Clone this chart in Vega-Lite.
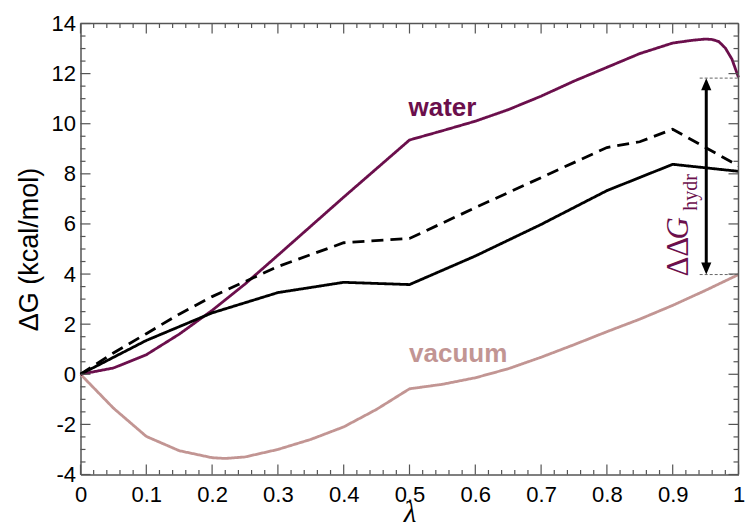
{
  "$schema": "https://vega.github.io/schema/vega-lite/v6.json",
  "width": 658,
  "height": 451,
  "autosize": {"type": "none"},
  "padding": {"left": 80.5, "top": 23.5, "right": 7.5, "bottom": 52},
  "background": "white",
  "config": {
    "view": {"stroke": null},
    "axis": {
      "grid": false,
      "domainColor": "#555555",
      "domainWidth": 1.5,
      "tickColor": "transparent",
      "labelColor": "black",
      "titleColor": "black",
      "labelFont": "Liberation Sans",
      "labelFontSize": 22,
      "titleFontWeight": "normal"
    }
  },
  "datasets": {
    "curves": [
      {"lambda": 0, "dG": 0, "series": "vacuum"},
      {"lambda": 0.05, "dG": -1.35, "series": "vacuum"},
      {"lambda": 0.1, "dG": -2.48, "series": "vacuum"},
      {"lambda": 0.15, "dG": -3.05, "series": "vacuum"},
      {"lambda": 0.2, "dG": -3.33, "series": "vacuum"},
      {"lambda": 0.22, "dG": -3.36, "series": "vacuum"},
      {"lambda": 0.25, "dG": -3.3, "series": "vacuum"},
      {"lambda": 0.3, "dG": -3.0, "series": "vacuum"},
      {"lambda": 0.35, "dG": -2.6, "series": "vacuum"},
      {"lambda": 0.4, "dG": -2.1, "series": "vacuum"},
      {"lambda": 0.45, "dG": -1.4, "series": "vacuum"},
      {"lambda": 0.5, "dG": -0.58, "series": "vacuum"},
      {"lambda": 0.55, "dG": -0.4, "series": "vacuum"},
      {"lambda": 0.6, "dG": -0.14, "series": "vacuum"},
      {"lambda": 0.65, "dG": 0.22, "series": "vacuum"},
      {"lambda": 0.7, "dG": 0.68, "series": "vacuum"},
      {"lambda": 0.75, "dG": 1.18, "series": "vacuum"},
      {"lambda": 0.8, "dG": 1.7, "series": "vacuum"},
      {"lambda": 0.85, "dG": 2.2, "series": "vacuum"},
      {"lambda": 0.9, "dG": 2.75, "series": "vacuum"},
      {"lambda": 0.95, "dG": 3.35, "series": "vacuum"},
      {"lambda": 1.0, "dG": 3.98, "series": "vacuum"},
      {"lambda": 0, "dG": 0, "series": "water"},
      {"lambda": 0.05, "dG": 0.25, "series": "water"},
      {"lambda": 0.1, "dG": 0.78, "series": "water"},
      {"lambda": 0.15, "dG": 1.6, "series": "water"},
      {"lambda": 0.2, "dG": 2.55, "series": "water"},
      {"lambda": 0.25, "dG": 3.6, "series": "water"},
      {"lambda": 0.3, "dG": 4.75, "series": "water"},
      {"lambda": 0.4, "dG": 7.07, "series": "water"},
      {"lambda": 0.5, "dG": 9.35, "series": "water"},
      {"lambda": 0.55, "dG": 9.72, "series": "water"},
      {"lambda": 0.6, "dG": 10.1, "series": "water"},
      {"lambda": 0.65, "dG": 10.56, "series": "water"},
      {"lambda": 0.7, "dG": 11.1, "series": "water"},
      {"lambda": 0.75, "dG": 11.7, "series": "water"},
      {"lambda": 0.8, "dG": 12.25, "series": "water"},
      {"lambda": 0.85, "dG": 12.8, "series": "water"},
      {"lambda": 0.9, "dG": 13.22, "series": "water"},
      {"lambda": 0.93, "dG": 13.33, "series": "water"},
      {"lambda": 0.95, "dG": 13.38, "series": "water"},
      {"lambda": 0.96, "dG": 13.36, "series": "water"},
      {"lambda": 0.97, "dG": 13.28, "series": "water"},
      {"lambda": 0.98, "dG": 13.02, "series": "water"},
      {"lambda": 0.99, "dG": 12.58, "series": "water"},
      {"lambda": 1.0, "dG": 11.85, "series": "water"},
      {"lambda": 0, "dG": 0, "series": "total"},
      {"lambda": 0.1, "dG": 1.35, "series": "total"},
      {"lambda": 0.2, "dG": 2.45, "series": "total"},
      {"lambda": 0.3, "dG": 3.26, "series": "total"},
      {"lambda": 0.4, "dG": 3.67, "series": "total"},
      {"lambda": 0.5, "dG": 3.58, "series": "total"},
      {"lambda": 0.6, "dG": 4.72, "series": "total"},
      {"lambda": 0.7, "dG": 5.98, "series": "total"},
      {"lambda": 0.8, "dG": 7.33, "series": "total"},
      {"lambda": 0.9, "dG": 8.38, "series": "total"},
      {"lambda": 1.0, "dG": 8.1, "series": "total"},
      {"lambda": 0, "dG": 0, "series": "dashed"},
      {"lambda": 0.05, "dG": 0.85, "series": "dashed"},
      {"lambda": 0.1, "dG": 1.62, "series": "dashed"},
      {"lambda": 0.15, "dG": 2.4, "series": "dashed"},
      {"lambda": 0.2, "dG": 3.1, "series": "dashed"},
      {"lambda": 0.3, "dG": 4.3, "series": "dashed"},
      {"lambda": 0.4, "dG": 5.25, "series": "dashed"},
      {"lambda": 0.5, "dG": 5.42, "series": "dashed"},
      {"lambda": 0.6, "dG": 6.65, "series": "dashed"},
      {"lambda": 0.7, "dG": 7.85, "series": "dashed"},
      {"lambda": 0.8, "dG": 9.05, "series": "dashed"},
      {"lambda": 0.85, "dG": 9.28, "series": "dashed"},
      {"lambda": 0.9, "dG": 9.78, "series": "dashed"},
      {"lambda": 1.0, "dG": 8.32, "series": "dashed"}
    ],
    "xticks": [
      {"v": 0, "kind": "major"}, {"v": 0.02, "kind": "minor"}, {"v": 0.04, "kind": "minor"}, {"v": 0.06, "kind": "minor"}, {"v": 0.08, "kind": "minor"},
      {"v": 0.1, "kind": "major"}, {"v": 0.12, "kind": "minor"}, {"v": 0.14, "kind": "minor"}, {"v": 0.16, "kind": "minor"}, {"v": 0.18, "kind": "minor"},
      {"v": 0.2, "kind": "major"}, {"v": 0.22, "kind": "minor"}, {"v": 0.24, "kind": "minor"}, {"v": 0.26, "kind": "minor"}, {"v": 0.28, "kind": "minor"},
      {"v": 0.3, "kind": "major"}, {"v": 0.32, "kind": "minor"}, {"v": 0.34, "kind": "minor"}, {"v": 0.36, "kind": "minor"}, {"v": 0.38, "kind": "minor"},
      {"v": 0.4, "kind": "major"}, {"v": 0.42, "kind": "minor"}, {"v": 0.44, "kind": "minor"}, {"v": 0.46, "kind": "minor"}, {"v": 0.48, "kind": "minor"},
      {"v": 0.5, "kind": "major"}, {"v": 0.52, "kind": "minor"}, {"v": 0.54, "kind": "minor"}, {"v": 0.56, "kind": "minor"}, {"v": 0.58, "kind": "minor"},
      {"v": 0.6, "kind": "major"}, {"v": 0.62, "kind": "minor"}, {"v": 0.64, "kind": "minor"}, {"v": 0.66, "kind": "minor"}, {"v": 0.68, "kind": "minor"},
      {"v": 0.7, "kind": "major"}, {"v": 0.72, "kind": "minor"}, {"v": 0.74, "kind": "minor"}, {"v": 0.76, "kind": "minor"}, {"v": 0.78, "kind": "minor"},
      {"v": 0.8, "kind": "major"}, {"v": 0.82, "kind": "minor"}, {"v": 0.84, "kind": "minor"}, {"v": 0.86, "kind": "minor"}, {"v": 0.88, "kind": "minor"},
      {"v": 0.9, "kind": "major"}, {"v": 0.92, "kind": "minor"}, {"v": 0.94, "kind": "minor"}, {"v": 0.96, "kind": "minor"}, {"v": 0.98, "kind": "minor"},
      {"v": 1, "kind": "major"}
    ],
    "yticks": [
      {"v": -4, "kind": "major"}, {"v": -3.5, "kind": "minor"}, {"v": -3, "kind": "minor"}, {"v": -2.5, "kind": "minor"},
      {"v": -2, "kind": "major"}, {"v": -1.5, "kind": "minor"}, {"v": -1, "kind": "minor"}, {"v": -0.5, "kind": "minor"},
      {"v": 0, "kind": "major"}, {"v": 0.5, "kind": "minor"}, {"v": 1, "kind": "minor"}, {"v": 1.5, "kind": "minor"},
      {"v": 2, "kind": "major"}, {"v": 2.5, "kind": "minor"}, {"v": 3, "kind": "minor"}, {"v": 3.5, "kind": "minor"},
      {"v": 4, "kind": "major"}, {"v": 4.5, "kind": "minor"}, {"v": 5, "kind": "minor"}, {"v": 5.5, "kind": "minor"},
      {"v": 6, "kind": "major"}, {"v": 6.5, "kind": "minor"}, {"v": 7, "kind": "minor"}, {"v": 7.5, "kind": "minor"},
      {"v": 8, "kind": "major"}, {"v": 8.5, "kind": "minor"}, {"v": 9, "kind": "minor"}, {"v": 9.5, "kind": "minor"},
      {"v": 10, "kind": "major"}, {"v": 10.5, "kind": "minor"}, {"v": 11, "kind": "minor"}, {"v": 11.5, "kind": "minor"},
      {"v": 12, "kind": "major"}, {"v": 12.5, "kind": "minor"}, {"v": 13, "kind": "minor"}, {"v": 13.5, "kind": "minor"},
      {"v": 14, "kind": "major"}
    ],
    "labels": [
      {"lambda": 0.55, "dG": 10.32, "text": "water", "series": "water"},
      {"lambda": 0.574, "dG": 0.49, "text": "vacuum", "series": "vacuum"}
    ],
    "guides": [
      {"x1": 0.941, "x2": 1.0, "dG": 11.82},
      {"x1": 0.941, "x2": 1.0, "dG": 3.98}
    ],
    "arrow": [
      {"lambda": 0.951, "y1": 4.3, "y2": 11.5}
    ],
    "heads": [
      {"lambda": 0.951, "dG": 11.58, "dir": "up"},
      {"lambda": 0.951, "dG": 4.22, "dir": "down"}
    ],
    "ddg": [
      {"lambda": 0.924, "dG": 3.9, "text": "ΔΔ"},
      {"lambda": 0.924, "dG": 5.38, "text": "G"},
      {"lambda": 0.9376, "dG": 6.53, "text": "hydr"}
    ]
  },
  "layer": [
    {
      "data": {"name": "curves"},
      "mark": {"type": "line", "strokeWidth": 2.8},
      "encoding": {
        "x": {
          "field": "lambda", "type": "quantitative",
          "scale": {"domain": [0, 1], "nice": false, "zero": false},
          "axis": {
            "orient": "bottom",
            "values": [0,0.1,0.2,0.3,0.4,0.5,0.6,0.7,0.8,0.9,1],
            "tickSize": -10,
            "labelExpr": "'' + datum.value",
            "labelOverlap": false,
            "labelFlush": false,
            "labelBound": false,
            "labelPadding": 20,
            "title": "λ",
            "titleFont": "Liberation Serif",
            "titleFontStyle": "italic",
            "titleFontSize": 29,
            "titlePadding": -7
          }
        },
        "y": {
          "field": "dG", "type": "quantitative",
          "scale": {"domain": [-4, 14], "nice": false, "zero": false},
          "axis": {
            "orient": "left",
            "values": [-4,-2,0,2,4,6,8,10,12,14],
            "tickSize": -10,
            "labelExpr": "'' + datum.value",
            "labelOverlap": false,
            "labelFlush": false,
            "labelBound": false,
            "labelPadding": 15,
            "title": "ΔG (kcal/mol)",
            "titleFont": "Liberation Sans",
            "titleFontSize": 27,
            "titlePadding": 8
          }
        },
        "color": {
          "field": "series", "type": "nominal",
          "scale": {"domain": ["water", "vacuum", "total", "dashed"], "range": ["#6B0F4C", "#C29593", "#000000", "#000000"]},
          "legend": null
        },
        "strokeDash": {
          "field": "series", "type": "nominal",
          "scale": {"domain": ["water", "vacuum", "total", "dashed"], "range": [[1, 0], [1, 0], [1, 0], [12, 7]]},
          "legend": null
        }
      }
    },
    {
      "data": {"name": "xticks"},
      "transform": [{"filter": "datum.kind == 'major'"}],
      "mark": {"type": "rule", "color": "#555555", "strokeWidth": 1.2, "y2Offset": -10},
      "encoding": {
        "x": {"field": "v", "type": "quantitative", "axis": null},
        "y": {"datum": -4, "type": "quantitative", "axis": null},
        "y2": {"datum": -4}
      }
    },
    {
      "data": {"name": "xticks"},
      "transform": [{"filter": "datum.kind == 'minor'"}],
      "mark": {"type": "rule", "color": "#555555", "strokeWidth": 1.2, "y2Offset": -4.5},
      "encoding": {
        "x": {"field": "v", "type": "quantitative", "axis": null},
        "y": {"datum": -4, "type": "quantitative", "axis": null},
        "y2": {"datum": -4}
      }
    },
    {
      "data": {"name": "xticks"},
      "transform": [{"filter": "datum.kind == 'major'"}],
      "mark": {"type": "rule", "color": "#555555", "strokeWidth": 1.2, "y2Offset": 10},
      "encoding": {
        "x": {"field": "v", "type": "quantitative", "axis": null},
        "y": {"datum": 14, "type": "quantitative", "axis": null},
        "y2": {"datum": 14}
      }
    },
    {
      "data": {"name": "xticks"},
      "transform": [{"filter": "datum.kind == 'minor'"}],
      "mark": {"type": "rule", "color": "#555555", "strokeWidth": 1.2, "y2Offset": 4.5},
      "encoding": {
        "x": {"field": "v", "type": "quantitative", "axis": null},
        "y": {"datum": 14, "type": "quantitative", "axis": null},
        "y2": {"datum": 14}
      }
    },
    {
      "data": {"name": "yticks"},
      "transform": [{"filter": "datum.kind == 'major'"}],
      "mark": {"type": "rule", "color": "#555555", "strokeWidth": 1.2, "x2Offset": 10},
      "encoding": {
        "y": {"field": "v", "type": "quantitative", "axis": null},
        "x": {"datum": 0, "type": "quantitative", "axis": null},
        "x2": {"datum": 0}
      }
    },
    {
      "data": {"name": "yticks"},
      "transform": [{"filter": "datum.kind == 'minor'"}],
      "mark": {"type": "rule", "color": "#555555", "strokeWidth": 1.2, "x2Offset": 5},
      "encoding": {
        "y": {"field": "v", "type": "quantitative", "axis": null},
        "x": {"datum": 0, "type": "quantitative", "axis": null},
        "x2": {"datum": 0}
      }
    },
    {
      "data": {"name": "yticks"},
      "transform": [{"filter": "datum.kind == 'major'"}],
      "mark": {"type": "rule", "color": "#555555", "strokeWidth": 1.2, "x2Offset": -10},
      "encoding": {
        "y": {"field": "v", "type": "quantitative", "axis": null},
        "x": {"datum": 1, "type": "quantitative", "axis": null},
        "x2": {"datum": 1}
      }
    },
    {
      "data": {"name": "yticks"},
      "transform": [{"filter": "datum.kind == 'minor'"}],
      "mark": {"type": "rule", "color": "#555555", "strokeWidth": 1.2, "x2Offset": -5},
      "encoding": {
        "y": {"field": "v", "type": "quantitative", "axis": null},
        "x": {"datum": 1, "type": "quantitative", "axis": null},
        "x2": {"datum": 1}
      }
    },
    {
      "data": {"values": [{}]},
      "mark": {"type": "rule", "color": "#555555", "strokeWidth": 1.5},
      "encoding": {
        "x": {"datum": 0, "type": "quantitative", "axis": null},
        "x2": {"datum": 1},
        "y": {"datum": 14, "type": "quantitative", "axis": null}
      }
    },
    {
      "data": {"values": [{}]},
      "mark": {"type": "rule", "color": "#555555", "strokeWidth": 1.5},
      "encoding": {
        "x": {"datum": 1, "type": "quantitative", "axis": null},
        "y": {"datum": -4, "type": "quantitative", "axis": null},
        "y2": {"datum": 14}
      }
    },
    {
      "data": {"name": "labels"},
      "mark": {"type": "text", "font": "Liberation Sans", "fontWeight": "bold", "fontSize": 26, "align": "center", "baseline": "alphabetic"},
      "encoding": {
        "x": {"field": "lambda", "type": "quantitative", "axis": null},
        "y": {"field": "dG", "type": "quantitative", "axis": null},
        "text": {"field": "text"},
        "color": {"field": "series", "type": "nominal", "legend": null}
      }
    },
    {
      "data": {"name": "guides"},
      "mark": {"type": "rule", "color": "#666666", "strokeWidth": 1, "strokeDash": [3, 2]},
      "encoding": {
        "x": {"field": "x1", "type": "quantitative", "axis": null},
        "x2": {"field": "x2"},
        "y": {"field": "dG", "type": "quantitative", "axis": null}
      }
    },
    {
      "data": {"name": "arrow"},
      "mark": {"type": "rule", "color": "black", "strokeWidth": 3},
      "encoding": {
        "x": {"field": "lambda", "type": "quantitative", "axis": null},
        "y": {"field": "y1", "type": "quantitative", "axis": null},
        "y2": {"field": "y2"}
      }
    },
    {
      "data": {"name": "heads"},
      "mark": {"type": "point", "filled": true, "color": "black", "opacity": 1, "size": 144, "strokeWidth": 0},
      "encoding": {
        "x": {"field": "lambda", "type": "quantitative", "axis": null},
        "y": {"field": "dG", "type": "quantitative", "axis": null},
        "shape": {
          "field": "dir", "type": "nominal",
          "scale": {"domain": ["up", "down"], "range": ["M0,-1L-0.85,1L0.85,1Z", "M0,1L-0.85,-1L0.85,-1Z"]},
          "legend": null
        }
      }
    },
    {
      "data": {"name": "ddg"},
      "transform": [{"filter": "datum.text == 'ΔΔ'"}],
      "mark": {"type": "text", "font": "Liberation Serif", "fontSize": 31, "angle": 270, "align": "left", "baseline": "alphabetic", "color": "#6B0F4C"},
      "encoding": {
        "x": {"field": "lambda", "type": "quantitative", "axis": null},
        "y": {"field": "dG", "type": "quantitative", "axis": null},
        "text": {"field": "text"}
      }
    },
    {
      "data": {"name": "ddg"},
      "transform": [{"filter": "datum.text == 'G'"}],
      "mark": {"type": "text", "font": "Liberation Serif", "fontSize": 31, "fontStyle": "italic", "angle": 270, "align": "left", "baseline": "alphabetic", "color": "#6B0F4C"},
      "encoding": {
        "x": {"field": "lambda", "type": "quantitative", "axis": null},
        "y": {"field": "dG", "type": "quantitative", "axis": null},
        "text": {"field": "text"}
      }
    },
    {
      "data": {"name": "ddg"},
      "transform": [{"filter": "datum.text == 'hydr'"}],
      "mark": {"type": "text", "font": "Liberation Serif", "fontSize": 20, "angle": 270, "align": "left", "baseline": "alphabetic", "color": "#6B0F4C"},
      "encoding": {
        "x": {"field": "lambda", "type": "quantitative", "axis": null},
        "y": {"field": "dG", "type": "quantitative", "axis": null},
        "text": {"field": "text"}
      }
    }
  ],
  "resolve": {"axis": {"x": "independent", "y": "independent"}}
}
